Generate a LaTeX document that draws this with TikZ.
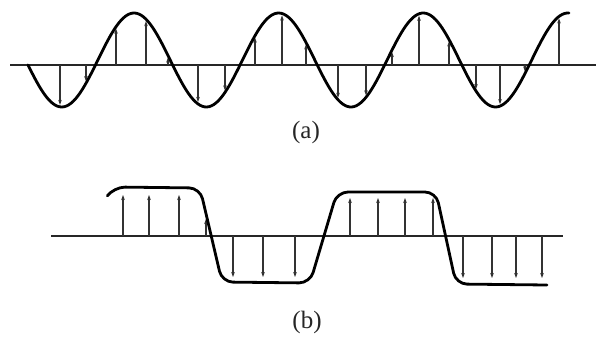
\documentclass[tikz,border=0pt]{standalone}
\usepackage{fontspec}
\setmainfont{Liberation Serif}
\usetikzlibrary{arrows.meta}
\begin{document}
\begin{tikzpicture}[x=1pt,y=-1pt,
  curve/.style={line width=2.8pt,black,line join=round,line cap=round},
  axisline/.style={line width=2.4pt,black!85},
  vec/.style={line width=1.2pt,black!80,-{Stealth[length=5pt,width=3.6pt]}},
  lbl/.style={font=\fontsize{25}{29}\selectfont,text=black!85}]
\useasboundingbox (0,0) rectangle (596,340);
% ---------- (a) ----------
\draw[axisline] (10,65) -- (596,65);
\foreach \xx in {60,86,116,146,168,198,225,255,282,306,338,366,392,419,449,476,500,525,559}{
  \pgfmathsetmacro{\yy}{60+47*sin(2.48963*(\xx-25.6))}
  \pgfmathsetmacro{\yt}{\yy>65 ? \yy-2 : \yy+2}
  \draw[vec] (\xx,65) -- (\xx,\yt);
}
\draw[curve] plot[domain=28:569,samples=240] (\x,{60+47*sin(2.48963*(\x-25.6))});
\node[lbl] (la) at (306,132) {(a)};
% ---------- (b) ----------
\draw[axisline] (51,236) -- (563,236);
\foreach \xx in {123,149,179}{\draw[vec] (\xx,236) -- (\xx,195);}
\draw[vec] (206,236) -- (206,219);
\foreach \xx in {233,263,295}{\draw[vec] (\xx,236) -- (\xx,277);}
\foreach \xx in {350,378,405,433}{\draw[vec] (\xx,236) -- (\xx,198);}
\foreach \xx in {463,492,516,542}{\draw[vec] (\xx,236) -- (\xx,278);}
\draw[curve,rounded corners=11pt] (108,195) -- (114,187) -- (200,188) -- (222,282) -- (310,283) -- (337,192) -- (436,192) -- (456,284) -- (547,285);
\node[lbl] (lb) at (307,322) {(b)};
\end{tikzpicture}
\end{document}
